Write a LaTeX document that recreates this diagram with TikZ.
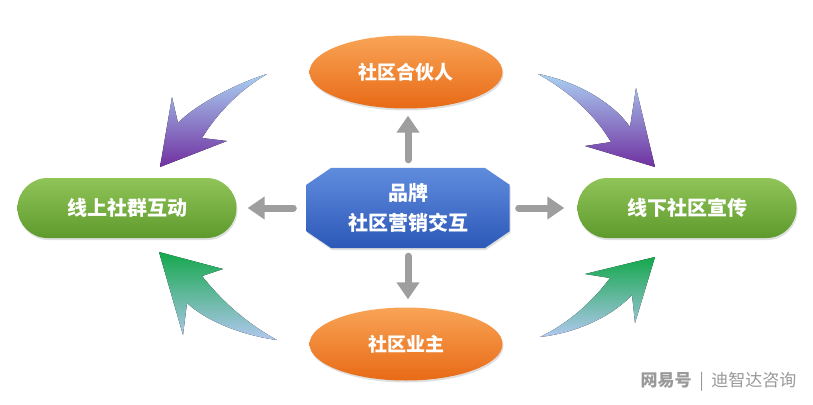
\documentclass[tikz,border=0pt]{standalone}
\usepackage{fontspec}
\setmainfont{Noto Sans CJK SC}
\usetikzlibrary{shapes.geometric,arrows.meta,shadows,backgrounds}
\definecolor{hubtop}{RGB}{96,140,222}
\definecolor{hubbot}{RGB}{44,88,184}
\definecolor{ovaltop}{RGB}{248,164,86}
\definecolor{ovalbot}{RGB}{232,106,22}
\definecolor{pilltop}{RGB}{144,196,88}
\definecolor{pillbot}{RGB}{94,154,44}
\definecolor{arrowgray}{RGB}{158,158,158}
\definecolor{swblue}{RGB}{170,208,242}
\definecolor{swpurple}{RGB}{112,48,160}
\definecolor{swgreen}{RGB}{20,168,76}
\definecolor{swpale}{RGB}{178,200,240}

\begin{document}
\begin{tikzpicture}[x=1pt, y=-1pt,
    hub/.style={rectangle, minimum width=203pt, minimum height=80pt, inner sep=0pt, draw=none, text=white, align=center, font=\bfseries\fontsize{20pt}{30pt}\selectfont},
    hubfill/.style={top color=hubtop, bottom color=hubbot, draw=none, drop shadow={opacity=0.25, shadow xshift=1pt, shadow yshift=-2pt}},
    ovalnode/.style={ellipse, minimum width=193pt, minimum height=73pt, inner sep=0pt, top color=ovaltop, bottom color=ovalbot, draw=none, text=white, font=\bfseries\fontsize{19pt}{22pt}\selectfont, drop shadow={opacity=0.25, shadow xshift=1pt, shadow yshift=-2pt}},
    pill/.style={rectangle, rounded corners=30pt, minimum width=219pt, minimum height=60pt, inner sep=0pt, top color=pilltop, bottom color=pillbot, draw=none, text=white, font=\bfseries\fontsize{20pt}{22pt}\selectfont, drop shadow={opacity=0.25, shadow xshift=1pt, shadow yshift=-2pt}},
    grayarrow/.style={-{Triangle[width=22pt,length=17pt]}, line width=7pt, draw=arrowgray, line cap=round},
    swoosh/.style={draw=none, shading angle=0}
]
    \useasboundingbox (0,0) rectangle (813,404);

    \node[hub] (hub) at (408,208) {品牌\\社区营销交互};
    \node[ovalnode] (partner) at (406,72) {社区合伙人};
    \node[ovalnode] (owner) at (406,344) {社区业主};
    \node[pill] (online) at (127,208) {线上社群互动};
    \node[pill] (offline) at (687,208) {线下社区宣传};

    % octagon behind the hub text
    \begin{scope}[on background layer]
        \shade[hubfill] ([xshift=25pt]hub.north west) -- ([xshift=-25pt]hub.north east)
            -- ([yshift=-17pt]hub.north east) -- ([yshift=17pt]hub.south east)
            -- ([xshift=-25pt]hub.south east) -- ([xshift=25pt]hub.south west)
            -- ([yshift=17pt]hub.south west) -- ([yshift=-17pt]hub.north west) -- cycle;
    \end{scope}

    \draw[grayarrow, shorten <=8pt, shorten >=7pt] (hub.north) -- (hub.north |- partner.south);
    \draw[grayarrow, shorten <=8pt, shorten >=8pt] (hub.south) -- (hub.south |- owner.north);
    \draw[grayarrow, shorten <=13pt, shorten >=11pt] (hub.west) -- (online.east);
    \draw[grayarrow, shorten <=9pt, shorten >=13pt] (hub.east) -- (offline.west);

    % curved arrows
    \fill[swoosh, top color=swblue, bottom color=swpurple]
        (267,74) .. controls (235,84) and (195,105) .. (178,123) -- (172,97) -- (160,167)
        -- (227,141) -- (202,138) .. controls (218,112) and (240,90) .. cycle;
    \fill[swoosh, top color=swblue, bottom color=swpurple]
        (538,74) .. controls (580,82) and (615,105) .. (630,127) -- (636,88) -- (655,167)
        -- (585,146) -- (611,142) .. controls (595,115) and (570,92) .. cycle;
    \fill[swoosh, top color=swgreen, bottom color=swpale]
        (159,252) -- (223,269) -- (202,276) .. controls (225,305) and (250,325) .. (277,340)
        .. controls (240,335) and (205,320) .. (187,303) -- (183,335) -- cycle;
    \fill[swoosh, top color=swgreen, bottom color=swpale]
        (655,257) -- (585,274) -- (610,278) .. controls (590,305) and (565,325) .. (540,337)
        .. controls (575,333) and (610,318) .. (632,295) -- (635,323) -- cycle;

    \node[text=black!40, font=\fontsize{17pt}{19pt}\selectfont, anchor=east] (mark) at (800,382) {{\bfseries 网易号}\ \ |\ \ 迪智达咨询};
\end{tikzpicture}
\end{document}
